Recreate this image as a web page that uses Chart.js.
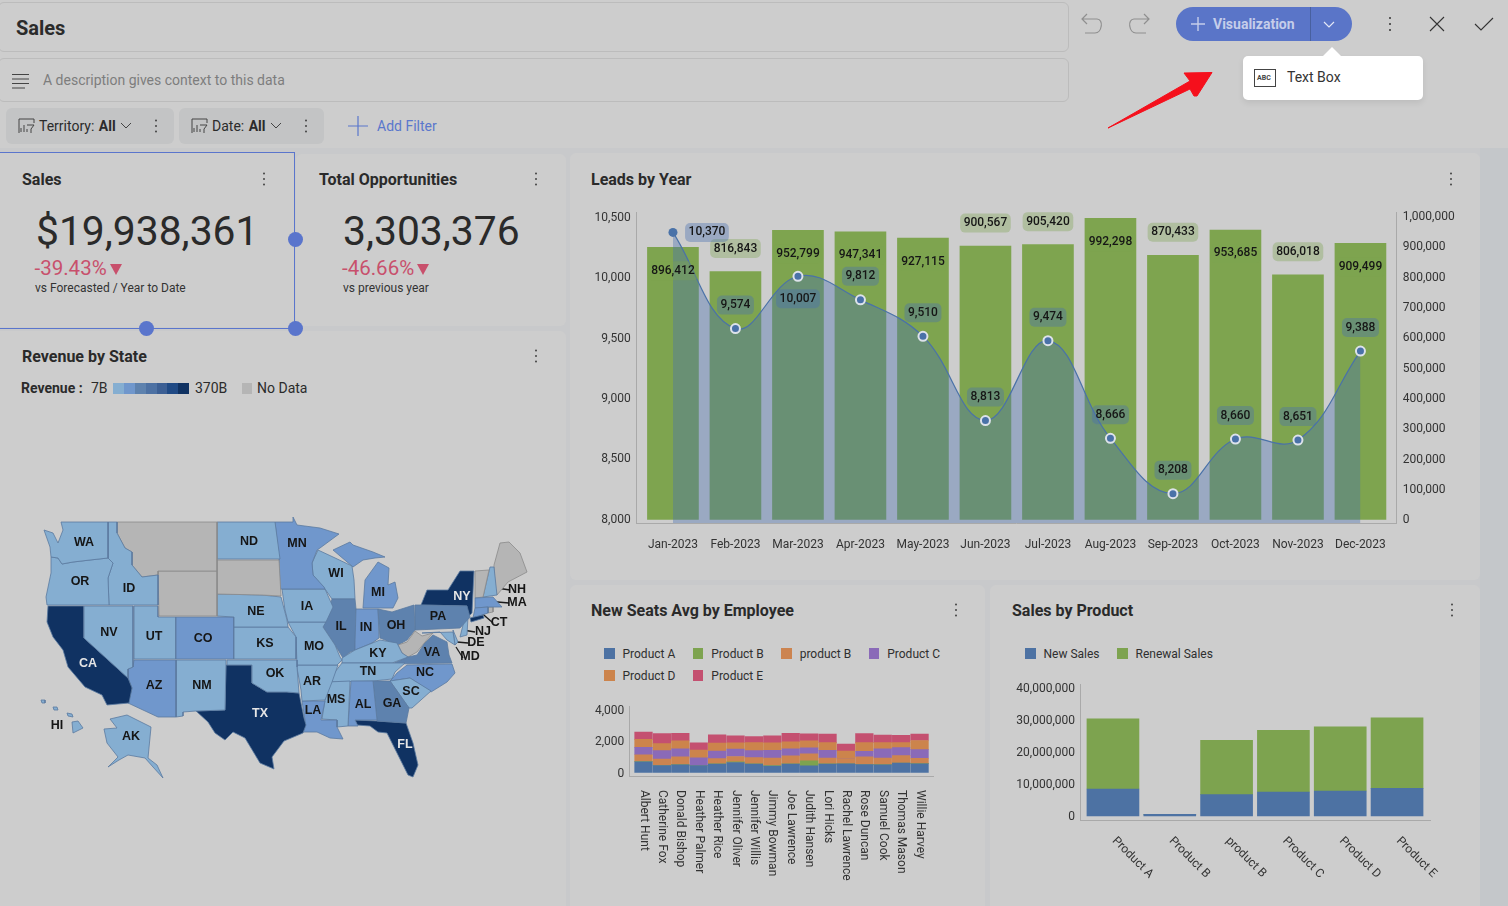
<!DOCTYPE html>
<html>
<head>
<meta charset="utf-8">
<title>Sales</title>
<script src="https://cdn.jsdelivr.net/npm/chart.js@4/dist/chart.umd.min.js"></script>
<style>
  html, body { margin: 0; padding: 0; width: 1508px; height: 906px; overflow: hidden; background: #c8c9cb; font-family: Roboto, sans-serif; color: #2b2b2b; }
  .abs { position: absolute; }
  .t { position: absolute; transform: translateY(-50%); white-space: nowrap; }
  .panel { position: absolute; background: #cdcdcd; border-radius: 6px; }
  .title { font-size: 16px; font-weight: 700; color: #2a2a2a; }
  .dots { position: absolute; width: 2.4px; height: 2.4px; background: #444; border-radius: 50%; box-shadow: 0 -5.5px 0 #444, 0 5.5px 0 #444; }
  .chip { position: absolute; top: 108px; height: 36px; background: #c3c4c5; border-radius: 6px; }
  .big { font-size: 40.8px; color: #2a2a2a; }
  .red { font-size: 20.5px; color: #c8506c; }
  .small { font-size: 12px; color: #333; }
  canvas { position: absolute; }
  .legend { position: absolute; display: flex; flex-wrap: wrap; font-size: 12px; color: #2f2f2f; line-height: 22px; }
  .legend span.box { display: inline-block; width: 10.5px; height: 10.5px; margin-right: 8px; vertical-align: -1px; }
  .legend div { margin-right: 17.5px; }
  .handle { position: absolute; width: 15px; height: 15px; border-radius: 50%; background: #5a75cc; }
</style>
</head>
<body>
<div class="abs" style="left:0;top:0;width:1508px;height:148px;background:#cdcdcd"></div>
<div class="abs" style="left:1480px;top:148px;width:28px;height:758px;background:#c4c7ca"></div>

<div class="abs" style="left:-2px;top:2px;width:1069px;height:48px;border:1px solid #bcbcbc;border-radius:6px"></div>
<div class="t" style="left:16px;top:28px;font-size:20px;font-weight:700">Sales</div>
<div class="abs" style="left:-2px;top:58px;width:1069px;height:42px;border:1px solid #bcbcbc;border-radius:6px"></div>
<svg class="abs" style="left:12px;top:73px" width="18" height="16"><path d="M0 1.5H17M0 6H17M0 10.5H17M0 15H13" stroke="#444" stroke-width="1.1"/></svg>
<div class="t" style="left:43px;top:80px;font-size:14px;color:#7d7d7d">A description gives context to this data</div>

<div class="chip" style="left:6px;width:168px"></div>
<div class="chip" style="left:179px;width:145px"></div>
<svg class="abs" style="left:18px;top:118px" width="18" height="16"><path d="M1 15V1H16V5M3 14V10M6 14V7M9 14V11M9 7H16L13 11V15" fill="none" stroke="#444" stroke-width="1"/></svg>
<svg class="abs" style="left:191px;top:118px" width="18" height="16"><path d="M1 15V1H16V5M3 14V10M6 14V7M9 14V11M9 7H16L13 11V15" fill="none" stroke="#444" stroke-width="1"/></svg>
<div class="t" style="left:39px;top:126px;font-size:14px">Territory: <b style="margin-left:1px">All</b></div>
<svg class="abs" style="left:120px;top:122px" width="12" height="8"><path d="M1 1L6 6L11 1" fill="none" stroke="#444"/></svg>
<div class="dots" style="left:155px;top:125px"></div>
<div class="t" style="left:212px;top:126px;font-size:14px">Date: <b style="margin-left:1px">All</b></div>
<svg class="abs" style="left:270px;top:122px" width="12" height="8"><path d="M1 1L6 6L11 1" fill="none" stroke="#444"/></svg>
<div class="dots" style="left:305px;top:125px"></div>
<svg class="abs" style="left:348px;top:116px" width="20" height="20"><path d="M10 0V20M0 10H20" stroke="#5a77cc" stroke-width="1.2"/></svg>
<div class="t" style="left:377px;top:126px;font-size:14px;color:#5a77cc">Add Filter</div>

<svg class="abs" style="left:1080px;top:12px" width="24" height="24"><path d="M2 7H17C24 7 22 21 15 21H5M7 2L2 7L7 12" fill="none" stroke="#8f8f8f" stroke-width="1.2"/></svg>
<svg class="abs" style="left:1127px;top:12px" width="24" height="24"><path d="M22 7H7C0 7 2 21 9 21H19M17 2L22 7L17 12" fill="none" stroke="#8f8f8f" stroke-width="1.2"/></svg>
<div class="abs" style="left:1176px;top:7px;width:176px;height:34px;border-radius:17px;background:#5a75c8"></div>
<div class="abs" style="left:1310px;top:7px;width:1px;height:34px;background:#48609f"></div>
<svg class="abs" style="left:1190px;top:16px" width="16" height="16"><path d="M8 1V15M1 8H15" stroke="#c5cdea" stroke-width="1.4"/></svg>
<div class="t" style="left:1213px;top:24px;font-size:14px;font-weight:700;color:#c5cdea">Visualization</div>
<svg class="abs" style="left:1323px;top:21px" width="12" height="8"><path d="M1 1L6 6L11 1" fill="none" stroke="#e4e8f6" stroke-width="1.2"/></svg>
<div class="dots" style="left:1389px;top:23px;background:#333;box-shadow:0 -6px 0 #333,0 6px 0 #333"></div>
<svg class="abs" style="left:1429px;top:16px" width="16" height="16"><path d="M1 1L15 15M15 1L1 15" stroke="#333" stroke-width="1.1"/></svg>
<svg class="abs" style="left:1474px;top:17px" width="20" height="14"><path d="M1 7L7 13L19 1" fill="none" stroke="#333" stroke-width="1.1"/></svg>
<div class="abs" style="left:1243px;top:56px;width:180px;height:44px;background:#fff;border-radius:5px;box-shadow:0 3px 6px rgba(0,0,0,.08)"></div>
<svg class="abs" style="left:1322px;top:46px" width="20" height="11"><path d="M0 11L10 1L20 11Z" fill="#fff"/></svg>
<div class="abs" style="left:1254px;top:69px;width:20px;height:16px;border:1px solid #444"></div>
<div class="t" style="left:1257px;top:78px;font-size:7px;font-weight:700;color:#444">ABC</div>
<div class="t" style="left:1287px;top:77px;font-size:14px;color:#333">Text Box</div>
<svg class="abs" style="left:1100px;top:65px" width="120" height="70"><path d="M8 63L90 16L84 8L112 7.5L97 31H94L90 24Z" fill="#f5101c" stroke="#f5101c" stroke-linejoin="round"/></svg>

<div class="panel" style="left:-6px;top:152px;width:300px;height:175px"></div>
<div class="panel" style="left:296px;top:154px;width:270px;height:172px"></div>
<div class="panel" style="left:-6px;top:331px;width:572px;height:590px"></div>
<div class="panel" style="left:570px;top:153px;width:910px;height:427px"></div>
<div class="panel" style="left:570px;top:585px;width:415px;height:340px"></div>
<div class="panel" style="left:990px;top:585px;width:490px;height:340px"></div>

<div class="abs" style="left:-2px;top:151.5px;width:294.5px;height:175px;border:1px solid #5a75cc"></div>
<div class="handle" style="left:288px;top:232px"></div>
<div class="handle" style="left:139px;top:321px"></div>
<div class="handle" style="left:288px;top:321px"></div>

<div class="t title" style="left:22px;top:179px">Sales</div>
<div class="dots" style="left:263px;top:178px"></div>
<div class="t big" style="left:36px;top:231px">$19,938,361</div>
<div class="t red" style="left:34.5px;top:268px">-39.43%</div>
<svg class="abs" style="left:110px;top:264px" width="12" height="11"><path d="M0 0H12L6 11Z" fill="#c8506c"/></svg>
<div class="t small" style="left:35px;top:288px">vs Forecasted / Year to Date</div>

<div class="t title" style="left:319px;top:179px">Total Opportunities</div>
<div class="dots" style="left:535px;top:178px"></div>
<div class="t big" style="left:343px;top:231px">3,303,376</div>
<div class="t red" style="left:342px;top:268px">-46.66%</div>
<svg class="abs" style="left:417px;top:264px" width="12" height="11"><path d="M0 0H12L6 11Z" fill="#c8506c"/></svg>
<div class="t small" style="left:343px;top:288px">vs previous year</div>

<div class="t title" style="left:22px;top:356px">Revenue by State</div>
<div class="dots" style="left:535px;top:355px"></div>
<div class="t" style="left:21px;top:388px;font-size:14px;font-weight:700">Revenue :</div>
<div class="t" style="left:91px;top:388px;font-size:14px">7B</div>
<div id="scale" class="abs" style="left:113px;top:383px;height:11px;display:flex"></div>
<div class="t" style="left:195px;top:388px;font-size:14px">370B</div>
<div class="abs" style="left:242px;top:383px;width:10px;height:11px;background:#b5b5b5"></div>
<div class="t" style="left:257px;top:388px;font-size:14px">No Data</div>

<div class="t title" style="left:591px;top:179px">Leads by Year</div>
<div class="dots" style="left:1450px;top:178px"></div>
<div class="t title" style="left:591px;top:610px">New Seats Avg by Employee</div>
<div class="dots" style="left:955px;top:609px"></div>
<div class="t title" style="left:1012px;top:610px">Sales by Product</div>
<div class="dots" style="left:1451px;top:609px"></div>

<div id="legendSeats" class="legend" style="left:604px;top:642.5px;width:360px"></div>
<div id="legendProducts" class="legend" style="left:1025px;top:642.5px;width:300px"></div>

<canvas id="mapChart" style="left:20px;top:500px"></canvas>
<canvas id="leadsChart" style="left:570px;top:200px"></canvas>
<canvas id="seatsChart" style="left:575px;top:700px"></canvas>
<canvas id="productChart" style="left:995px;top:675px"></canvas>

<script>
// Leads by Year
const months = ["Jan-2023", "Feb-2023", "Mar-2023", "Apr-2023", "May-2023", "Jun-2023", "Jul-2023", "Aug-2023", "Sep-2023", "Oct-2023", "Nov-2023", "Dec-2023"];
const leadsBars = [896412, 816843, 952799, 947341, 927115, 900567, 905420, 992298, 870433, 953685, 806018, 909499];
const leadsLine = [10370, 9574, 10007, 9812, 9510, 8813, 9474, 8666, 8208, 8660, 8651, 9388];
const leadsLeftTicks = [8000, 8500, 9000, 9500, 10000, 10500];
const leadsRightTicks = [0, 100000, 200000, 300000, 400000, 500000, 600000, 700000, 800000, 900000, 1000000];

// New Seats Avg by Employee
const employees = ["Albert Hunt", "Catherine Fox", "Donald Bishop", "Heather Palmer", "Heather Rice", "Jennifer Oliver", "Jennifer Willis", "Jimmy Bowman", "Joe Lawrence", "Judith Hansen", "Lori Hicks", "Rachel Lawrence", "Rose Duncan", "Samuel Cook", "Thomas Mason", "Willie Harvey"];
const seatNames = ["Product A", "Product B", "product B", "Product C", "Product D", "Product E"];
const seatsA = [690, 450, 495, 450, 540, 645, 540, 410, 540, 430, 540, 560, 515, 495, 600, 560];
const seatsB = [20, 10, 10, 0, 10, 40, 10, 40, 20, 320, 10, 0, 10, 10, 10, 10];
const seatsB2 = [430, 410, 495, 0, 345, 345, 410, 475, 515, 450, 385, 300, 475, 430, 475, 345];
const seatsC = [475, 540, 515, 495, 475, 475, 450, 495, 450, 385, 495, 0, 365, 580, 515, 560];
const seatsD = [515, 450, 515, 495, 515, 410, 515, 495, 450, 450, 495, 515, 560, 410, 320, 580];
const seatsE = [475, 645, 495, 475, 540, 450, 385, 450, 540, 450, 540, 450, 580, 475, 475, 410];
const seatTicks = [0, 2000, 4000];

// Sales by Product
const products = ["Product A", "Product B", "product B", "Product C", "Product D", "Product E"];
const newSales = [8440000, 500000, 6670000, 7500000, 7800000, 8650000];
const renewalSales = [21900000, 50000, 17000000, 19300000, 20100000, 22000000];
const productTicks = [0, 10000000, 20000000, 30000000, 40000000];

// Revenue by State: outlines, bucket -1 is No Data
const stateCodes = ["WA", "OR", "ID", "MT", "WY", "ND", "SD", "NE", "KS", "CO", "UT", "NV", "CA", "AZ", "NM", "OK", "TX", "MN", "IA", "MO", "AR", "LA", "MS", "AL", "GA", "FL", "SC", "NC", "TN", "KY", "VA", "WV", "OH", "IN", "IL", "WI", "MI", "MI", "PA", "NY", "NY", "NJ", "MD", "DE", "CT", "MA", "RI", "VT", "NH", "ME", "AK", "HI", "HI", "HI", "HI"];
const stateBuckets = [0, 0, 0, -1, -1, 0, -1, 0, 0, 1, 0, 0, 6, 1, 0, 0, 6, 1, 0, 0, 0, 1, 0, 1, 2, 6, 0, 1, 0, 0, 2, -1, 2, 1, 2, 0, 1, 1, 2, 6, 6, 0, 0, 0, 1, 1, -1, -1, 0, -1, 0, 0, 0, 0, 0];
const stateOutlines = [
  [61,522, 108,522, 108,558, 90,560, 73,562, 62,564, 58,558, 51,557, 50,547, 44,530, 53,533, 58,543, 63,530],
  [51,557, 58,558, 62,564, 73,562, 90,560, 108,558, 113,563, 108,578, 109,605, 47,605, 46,597, 51,573],
  [108,522, 117,522, 117,533, 125,548, 132,552, 132,565, 142,577, 158,575, 158,605, 109,605, 108,578, 113,563, 108,558],
  [117,522, 217,522, 217,571, 158,571, 158,575, 142,577, 132,565, 132,552, 125,548, 117,533],
  [158,571, 217,571, 217,616, 159,616],
  [217,522, 275,522, 280,559, 217,559],
  [217,560, 279,560, 281,596, 262,595, 217,594],
  [217,594, 262,595, 281,597, 287,620, 288,627, 234,627, 234,617, 217,616],
  [234,627, 288,627, 296,637, 296,659, 234,659],
  [176,617, 234,617, 234,659, 176,659],
  [134,606, 158,606, 158,617, 176,617, 176,659, 134,659],
  [84,606, 133,606, 133,667, 128,669, 128,678, 84,638],
  [48,606, 84,606, 84,638, 128,678, 132,688, 129,703, 107,705, 102,695, 85,687, 68,667, 63,650, 53,637, 47,622],
  [134,660, 176,660, 176,717, 158,717, 128,703, 132,688, 128,678, 128,669, 133,667],
  [176,660, 226,660, 225,710, 196,711, 183,712, 183,716, 176,717],
  [227,660, 297,660, 297,667, 299,693, 287,692, 267,692, 252,683, 252,665, 227,665],
  [226,665, 252,665, 252,683, 267,692, 287,692, 299,693, 304,718, 306,725, 303,733, 284,741, 272,757, 274,769, 260,763, 245,738, 233,732, 225,740, 215,733, 208,722, 196,711, 225,710],
  [275,522, 293,522, 293,517, 297,525, 320,528, 339,534, 320,548, 317,550, 312,563, 313,575, 324,587, 325,589, 280,589, 279,559],
  [282,589, 325,589, 333,607, 326,622, 288,622, 285,610],
  [288,622, 326,622, 323,627, 335,645, 340,657, 342,660, 337,665, 297,665, 296,637],
  [297,665, 338,665, 332,682, 325,700, 302,701, 301,690, 297,668],
  [302,701, 325,701, 321,720, 337,720, 337,727, 343,739, 330,738, 317,732, 303,732, 305,720],
  [327,682, 350,681, 348,726, 337,727, 337,720, 322,719, 325,700],
  [351,681, 373,681, 377,720, 355,720, 358,726, 348,726],
  [373,681, 390,681, 409,708, 406,723, 377,721],
  [355,720, 377,721, 406,723, 413,743, 418,765, 413,777, 408,775, 397,753, 387,733, 378,732, 370,726, 357,725],
  [390,681, 410,678, 431,691, 412,708, 409,708],
  [392,679, 397,673, 407,665, 452,664, 455,673, 447,682, 431,692, 410,678, 390,681],
  [342,663, 405,663, 395,672, 392,679, 373,681, 327,682, 335,672],
  [342,663, 342,658, 355,650, 380,640, 397,643, 402,653, 408,657, 392,663],
  [392,664, 408,657, 417,655, 424,644, 433,635, 447,642, 449,655, 452,663],
  [398,645, 407,642, 415,631, 422,636, 433,633, 425,642, 417,652, 408,657, 402,653],
  [378,609, 392,612, 414,605, 415,630, 407,640, 398,645, 380,638],
  [356,609, 378,609, 379,638, 372,643, 355,650, 355,643],
  [332,599, 355,599, 356,609, 355,650, 350,652, 343,658, 335,645, 323,627, 328,613],
  [312,563, 318,550, 333,557, 352,566, 354,580, 355,599, 332,599, 325,589, 313,575],
  [333,550, 350,542, 353,545, 373,552, 385,557, 375,558, 363,560, 353,567],
  [363,608, 365,580, 378,562, 389,568, 388,585, 395,582, 398,598, 393,608, 378,608],
  [415,605, 421,605, 467,606, 470,617, 460,628, 415,630],
  [421,605, 427,590, 448,590, 460,571, 474,571, 472,613, 468,617, 463,615, 467,606],
  [470,618, 483,615, 484,618, 471,622],
  [462,616, 468,617, 467,635, 460,637, 463,625],
  [422,633, 453,632, 455,645, 447,640, 440,632],
  [453,630, 458,642, 455,645],
  [475,608, 488,607, 488,613, 473,618],
  [475,598, 493,597, 502,607, 488,607, 475,608],
  [488,607, 493,607, 493,612, 488,613],
  [475,571, 489,570, 483,597, 475,598],
  [490,567, 494,567, 497,595, 483,597],
  [495,587, 494,565, 500,543, 509,542, 520,553, 527,572, 508,582, 497,595],
  [110,719, 127,715, 151,727, 148,758, 157,765, 163,778, 153,767, 145,758, 128,755, 119,760, 108,767, 118,757, 107,743, 104,729, 117,728],
  [72,722, 78,721, 83,728, 73,733],
  [67,713, 72,714, 73,717, 68,716],
  [53,707, 57,707, 58,710, 54,710],
  [41,700, 45,700, 45,703, 42,703]
];
const labelCodes = ["WA", "OR", "ID", "ND", "MN", "WI", "MI", "NY", "NH", "MA", "CT", "NJ", "DE", "MD", "NE", "IA", "IL", "IN", "OH", "PA", "NV", "UT", "CO", "KS", "MO", "KY", "VA", "CA", "AZ", "NM", "OK", "AR", "TN", "NC", "SC", "TX", "LA", "MS", "AL", "GA", "FL", "HI", "AK"];
const labelX = [84, 80, 129, 249, 297, 336, 378, 462, 517, 517, 499, 483, 476, 470, 256, 307, 341, 366, 396, 438, 109, 154, 203, 265, 314, 378, 432, 88, 154, 202, 275, 312, 368, 425, 411, 260, 313, 336, 363, 392, 405, 57, 131];
const labelY = [543, 582, 589, 542, 544, 574, 593, 597, 590, 603, 623, 632, 643, 657, 612, 607, 627, 628, 626, 617, 633, 637, 639, 644, 647, 654, 653, 664, 686, 686, 674, 682, 672, 673, 692, 714, 711, 700, 705, 704, 745, 726, 737];
const leaderLines = [[490,587, 510,590], [486,601, 509,603], [477,609, 493,623], [463,630, 475,632], [457,642, 468,643], [456,647, 463,658]];

const bucketColours = ["#85aed1", "#7097cc", "#5e82ae", "#4d71a3", "#3c5f94", "#204a85", "#103262"];
const noDataColour = "#b5b5b5";
const inkColour = "#333";
const numFmt = (v) => v.toLocaleString("en-US");

bucketColours.forEach((c) => {
  const d = document.createElement("div");
  d.style.cssText = "width:10.9px;height:11px;background:" + c;
  document.getElementById("scale").appendChild(d);
});

function legend(id, names, colours) {
  const host = document.getElementById(id);
  names.forEach((n, i) => {
    const d = document.createElement("div");
    const b = document.createElement("span");
    b.className = "box";
    b.style.background = colours[i];
    d.appendChild(b);
    d.appendChild(document.createTextNode(n));
    host.appendChild(d);
  });
}

function sizeCanvas(id, w, h) {
  const c = document.getElementById(id);
  c.width = w;
  c.height = h;
  c.style.width = w + "px";
  c.style.height = h + "px";
  return c;
}

function yAxis(position, width, min, max, ticks, padding) {
  return {
    position: position,
    min: min,
    max: max,
    stacked: true,
    afterBuildTicks: (axis) => { axis.ticks = ticks.map((v) => ({ value: v })); },
    afterFit: (axis) => {
      axis.width = width;
      axis.paddingTop = 0;
      axis.paddingBottom = 0;
    },
    grid: { display: false, drawTicks: false },
    border: { display: true, color: "#a9a9a9" },
    ticks: { padding: padding, labelOffset: 1, color: inkColour, font: { family: "Roboto", size: 12 }, callback: numFmt, autoSkip: false },
  };
}

// x axis is linear so the axis line can run a little past the first and last bar
function xAxis(names, height, padding, rotation, nudge, lead, trail) {
  const idx = names.map((n, i) => i);
  return {
    type: "linear",
    offset: false,
    stacked: true,
    min: -lead,
    max: names.length - 1 + trail,
    afterBuildTicks: (axis) => { axis.ticks = idx.map((v) => ({ value: v })); },
    afterDataLimits: (axis) => { if (rotation) axis._getXAxisLabelAlignment = () => "left"; },
    afterFit: (axis) => {
      axis.height = height;
      axis.paddingLeft = 0;
      axis.paddingRight = 0;
    },
    grid: { display: false, drawTicks: false, offset: false },
    border: { display: true, color: "#a9a9a9" },
    ticks: {
      padding: padding,
      labelOffset: nudge,
      color: inkColour,
      font: { family: "Roboto", size: 12 },
      autoSkip: false,
      minRotation: rotation,
      maxRotation: rotation,
      callback: (v) => names[v],
    },
  };
}

function pill(ctx, text, x, y, fill) {
  ctx.font = "500 12px Roboto";
  const w = ctx.measureText(text).width + 7;
  if (fill) {
    ctx.fillStyle = fill;
    ctx.beginPath();
    ctx.roundRect(x - w / 2, y - 9.5, w, 19, 5);
    ctx.fill();
  }
  ctx.fillStyle = "#161616";
  ctx.textAlign = "center";
  ctx.textBaseline = "middle";
  ctx.fillText(text, x, y);
}

// which labels sit inside the bar / under the point, the rest go above
const barInside = [true, false, true, true, true, false, false, true, false, true, false, true];
const leadsLabels = {
  id: "leadsLabels",
  afterDatasetsDraw(chart) {
    const ctx = chart.ctx;
    const bars = chart.getDatasetMeta(1).data;
    const points = chart.getDatasetMeta(0).data;
    ctx.save();
    bars.forEach((b, i) => {
      const y = barInside[i] ? b.y + 23.5 : b.y - 23;
      pill(ctx, numFmt(leadsBars[i]), b.x, y, "rgba(126,164,79,.36)");
    });
    points.forEach((p, i) => {
      let x = p.x;
      let y = p.y - 23.5;
      if (i == 0) { x += 34; y = p.y; }
      if (i == 2) { y = p.y + 22.5; }
      pill(ctx, numFmt(leadsLine[i]), x, y, "rgba(74,113,178,.385)");
    });
    ctx.restore();
  },
};

new Chart(sizeCanvas("leadsChart", 900, 360), {
  type: "bar",
  data: {
    labels: months.map((m, i) => i),
    datasets: [
      {
        type: "line",
        label: "Leads",
        data: leadsLine,
        yAxisID: "y",
        order: 0,
        tension: 0.4,
        fill: "start",
        backgroundColor: "rgba(74,113,178,.385)",
        borderColor: "#4a72a8",
        borderWidth: 1.2,
        pointRadius: 4.5,
        pointBackgroundColor: "#4a72a8",
        pointBorderColor: leadsLine.map((v, i) => (i == 0 ? "#4a72a8" : "#dde2ea")),
        pointBorderWidth: leadsLine.map((v, i) => (i == 0 ? 0 : 2)),
      },
      {
        label: "Opportunities",
        data: leadsBars,
        yAxisID: "y1",
        order: 1,
        backgroundColor: "#7ea44f",
        barThickness: 51,
      },
    ],
  },
  options: {
    responsive: false,
    animation: false,
    layout: { padding: { top: 12 } },
    plugins: { legend: { display: false }, tooltip: { enabled: false } },
    scales: {
      x: xAxis(months, 37, 15, 0, 0, 0.58, 0.58),
      y: yAxis("left", 66.7, 7965, 10539, leadsLeftTicks, 6),
      y1: yAxis("right", 73.3, -12200, 1013000, leadsRightTicks, 6),
    },
  },
  plugins: [leadsLabels],
});

const seatColours = ["#4d72a3", "#7da34f", "#cc8450", "#8a6ab8", "#cc844c", "#c45070"];
const seatSeries = [seatsA, seatsB, seatsB2, seatsC, seatsD, seatsE];
legend("legendSeats", seatNames, seatColours);
new Chart(sizeCanvas("seatsChart", 375, 206), {
  type: "bar",
  data: {
    labels: employees.map((e, i) => i),
    datasets: seatNames.map((n, i) => ({
      label: n,
      data: seatSeries[i],
      backgroundColor: seatColours[i],
      barThickness: 17.6,
    })),
  },
  options: {
    responsive: false,
    animation: false,
    layout: { padding: { top: 6, right: 17 } },
    plugins: { legend: { display: false }, tooltip: { enabled: false } },
    scales: {
      x: xAxis(employees, 130, 14, -90, 0, 0.772, 0.73),
      y: yAxis("left", 54.3, -225, 4276, seatTicks, 5),
    },
  },
});

const productColours = ["#4d72a3", "#7da34f"];
legend("legendProducts", ["New Sales", "Renewal Sales"], productColours);
new Chart(sizeCanvas("productChart", 480, 205), {
  type: "bar",
  data: {
    labels: products.map((p, i) => i),
    datasets: [
      { label: "New Sales", data: newSales, backgroundColor: productColours[0], barThickness: 52 },
      { label: "Renewal Sales", data: renewalSales, backgroundColor: productColours[1], barThickness: 52 },
    ],
  },
  options: {
    responsive: false,
    animation: false,
    layout: { padding: { top: 9, right: 45 } },
    plugins: { legend: { display: false }, tooltip: { enabled: false } },
    scales: {
      x: xAxis(products, 60, 14, -45, 1, 0.58, 0.58),
      y: yAxis("left", 85, -1250000, 41250000, productTicks, 5),
    },
  },
});

const toPoints = (flat) => {
  const pts = [];
  for (let i = 0; i < flat.length; i += 2) pts.push({ x: flat[i], y: flat[i + 1] });
  return pts;
};

const mapLabels = {
  id: "mapLabels",
  afterDatasetsDraw(chart) {
    const ctx = chart.ctx;
    ctx.save();
    ctx.font = "bold 12.5px 'Liberation Sans'";
    ctx.textAlign = "center";
    ctx.textBaseline = "middle";
    labelCodes.forEach((c, i) => {
      const dark = ["CA", "TX", "NY", "FL"].includes(c);
      ctx.fillStyle = dark ? "#e6e6e6" : "#151515";
      ctx.fillText(c, chart.scales.x.getPixelForValue(labelX[i]), chart.scales.y.getPixelForValue(labelY[i]));
    });
    ctx.restore();
  },
};

new Chart(sizeCanvas("mapChart", 530, 300), {
  type: "scatter",
  data: {
    datasets: stateOutlines.map((flat, i) => {
      const pts = toPoints(flat);
      pts.push(pts[0]);
      return {
        label: stateCodes[i],
        data: pts,
        showLine: true,
        fill: "shape",
        tension: 0,
        pointRadius: 0,
        borderWidth: 0.8,
        borderColor: stateBuckets[i] < 0 ? "#8a8a8a" : "#5a7a9f",
        backgroundColor: stateBuckets[i] < 0 ? noDataColour : bucketColours[stateBuckets[i]],
      };
    }).concat(leaderLines.map((flat) => ({
      label: "leader",
      data: toPoints(flat),
      showLine: true,
      fill: false,
      pointRadius: 0,
      borderWidth: 1.3,
      borderColor: "#1a1a1a",
    }))),
  },
  options: {
    responsive: false,
    animation: false,
    layout: { padding: 0 },
    plugins: { legend: { display: false }, tooltip: { enabled: false } },
    scales: {
      x: { type: "linear", display: false, min: 20, max: 550 },
      y: { type: "linear", display: false, min: 500, max: 800, reverse: true },
    },
  },
  plugins: [mapLabels],
});
</script>
</body>
</html>
